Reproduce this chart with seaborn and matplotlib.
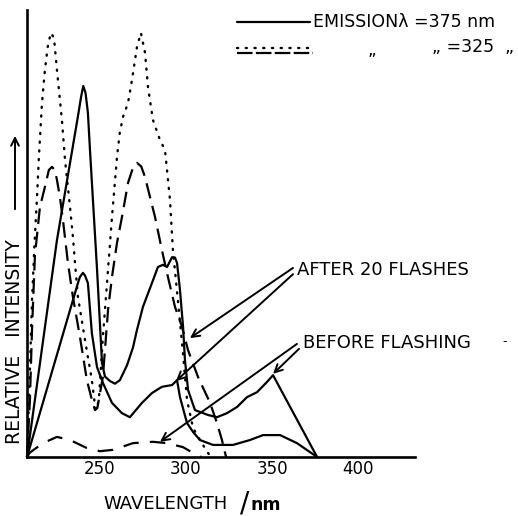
import matplotlib
matplotlib.use("Agg")
import matplotlib.pyplot as plt
import seaborn as sns
import pandas as pd
from matplotlib.lines import Line2D

# ---------------- data (wavelength nm, relative intensity 0-100) ----------------
solid_tall_nm = [207.6, 216, 225, 232, 237.2, 239, 240.3, 241.6, 243, 244.2, 248.3, 251.2,
                 252.9, 255.8, 258.7, 261.6, 265.7, 269.2, 271.5, 275.0, 280.2, 283.7,
                 286.6, 289.0, 291.9, 293.6, 294.8, 296.5, 298.3, 299.4, 301.2, 305.2,
                 312.8, 318.0, 323.8, 329.7, 335.5, 341.3, 347.1, 350.6, 376.2]
solid_tall_int = [0, 23.4, 48.5, 64.4, 76.2, 80.5, 83.0, 81.5, 77.0, 68.7, 42.0, 21.0,
                  18.0, 17.0, 16.4, 17.2, 20.5, 24.5, 28.4, 33.6, 38.9, 42.5,
                  43.0, 42.5, 44.7, 44.6, 43.4, 37.4, 29.1, 21.7, 15.0, 10.5,
                  9.4, 8.9, 9.8, 11.2, 13.4, 14.5, 16.8, 18.3, 0]

solid_mid_nm = [207.6, 234.3, 237.5, 238.4, 240.1, 241.3, 243.0, 245.3, 248.3, 251.7, 257.0,
                262.8, 267.4, 274.4, 280.2, 286.0, 291.9, 294.8, 296.5, 300.6, 304.1,
                308.1, 315.7, 327.3, 337.2, 344.8, 354.7, 364.5, 376.2]
solid_mid_int = [0, 35.1, 39.3, 40.3, 41.2, 40.6, 38.9, 27.7, 20.1, 16.6, 12.1,
                 9.8, 8.9, 12.1, 14.3, 15.7, 16.1, 17.2, 13.4, 7.6, 5.6,
                 3.8, 2.7, 2.7, 3.8, 4.9, 4.9, 3.1, 0]

dotted_nm = [207.6, 208.5, 209.5, 210.5, 212.0, 213.4, 214.5, 216.3, 218.0, 219.8, 221.5,
             223.3, 225.0, 227.9, 229.7, 232.6, 234.3, 235.5, 237.2, 241.3, 245.3, 247.1,
             248.0, 249.4, 251.7, 254.1, 257.0, 259.9, 261.5, 263.4, 266.3, 268.6, 271.5,
             273.8, 276.2, 277.9, 280.8, 284.9, 287.8, 290.7, 292.4, 295.3, 298.3, 300.6,
             304.1, 308.1, 312.8, 314.5]
dotted_int = [0, 10, 22, 35, 48, 58, 67, 79.2, 86.6, 92.2, 94.9,
              93.7, 86.6, 75.4, 66.4, 55.9, 49.2, 43.4, 35.8, 26.2, 17.2, 11.5,
              10.5, 13.0, 26.8, 38.9, 53.7, 67.1, 72.5, 76.1, 79.2, 84.3, 91.7,
              94.9, 90.4, 82.8, 75.4, 70.9, 68.7, 57.5, 46.3, 35.1, 23.0, 12.8,
              6.5, 3.8, 0.9, 0]

dashed_tall_nm = [207.6, 209.3, 210.5, 212.2, 215.1, 218.0, 220.3, 222.1, 223.8, 225.0, 226.7,
                  228.5, 231.4, 234.3, 238.4, 242.4, 245.3, 247.1, 248.5, 251.7, 252.9,
                  254.7, 257.0, 259.9, 262.8, 266.3, 269.0, 271.5, 274.0, 276.2, 282.0,
                  286.0, 289.5, 293.6, 297.7, 301.2, 307.0, 314.0, 318.0, 320.9, 323.3]
dashed_tall_int = [0, 12.8, 28.4, 45.0, 55.9, 60.4, 64.2, 64.9, 64.2, 62.0, 58.2,
                   53.0, 43.4, 35.8, 26.8, 17.2, 12.8, 10.5, 11.0, 17.9, 23.9,
                   32.9, 40.3, 47.9, 53.7, 61.3, 64.5, 65.8, 65.0, 62.6, 53.7,
                   46.3, 40.3, 33.6, 29.1, 23.9, 17.9, 12.1, 7.6, 3.8, 0]

dashed_low_nm = [207.6, 209.3, 216.9, 225.0, 232.6, 242.4, 250.0, 257.6, 269.2, 280.8,
                 289.0, 298.3, 304.1, 309.0]
dashed_low_int = [0, 1.0, 3.1, 4.5, 3.8, 2.0, 1.3, 1.6, 3.1, 3.4, 3.1, 2.2, 0.9, 0]

x_ticks = [250, 300, 350, 400]
x_tick_labels = ["250", "300", "350", "400"]

# ---------------- style ----------------
sns.set_style("white")
plt.rcParams['font.family'] = ['DejaVu Sans']
plt.rcParams['text.color'] = 'black'
plt.rcParams['xtick.color'] = 'black'
plt.rcParams['axes.labelcolor'] = 'black'

W, H = 518, 516
fig = plt.figure(figsize=(W / 100, H / 100), dpi=100)
ax = fig.add_axes([27 / W, 59 / H, 388 / W, 447 / H])

DOT = (0, (0.5, 3.2))

def draw(nm, val, **kw):
    df = pd.DataFrame({"nm": nm, "val": val})
    sns.lineplot(data=df, x="nm", y="val", ax=ax, color="black", estimator=None,
                 sort=False, clip_on=False, **kw)

draw(solid_tall_nm, solid_tall_int, lw=1.6)
draw(solid_mid_nm, solid_mid_int, lw=1.6)
draw(dotted_nm, dotted_int, lw=1.7, linestyle=DOT, dash_capstyle="round")
draw(dashed_tall_nm, dashed_tall_int, lw=1.6, linestyle=(0, (7, 3.5)))
draw(dashed_low_nm, dashed_low_int, lw=1.6, linestyle=(0, (7, 5)))

ax.set_xlim(207.6, 433.1)
ax.set_ylim(0, 100)
ax.set_xticks(x_ticks)
ax.set_xticklabels(x_tick_labels)
ax.set_yticks([])
ax.set_xlabel("")
ax.set_ylabel("")
ax.tick_params(axis="x", direction="in", length=11, width=1.5, pad=2,
               labelsize=12, color="black", labelcolor="black")
for s in ["top", "right"]:
    ax.spines[s].set_visible(False)
for s in ["left", "bottom"]:
    ax.spines[s].set_linewidth(1.9)
    ax.spines[s].set_color("black")

# ---------------- annotations ----------------
ap = dict(arrowstyle="->", lw=1.4, color="black", shrinkA=0, shrinkB=0,
          mutation_scale=14)
ax.text(364.5, 41.8, "AFTER 20 FLASHES", fontsize=13, ha="left", va="center",
        color="black")
ax.annotate("", xy=(302.3, 26.6), xytext=(362.2, 42.3), arrowprops=ap)
ax.annotate("", xy=(294.2, 17.0), xytext=(362.2, 40.9), arrowprops=ap)
ax.text(368.0, 25.5, "BEFORE FLASHING", fontsize=13, ha="left", va="center",
        color="black")
ax.text(484.0, 25.8, "-", fontsize=9, ha="left", va="center", color="black")
ax.annotate("", xy=(284.9, 3.4), xytext=(364.5, 25.3), arrowprops=ap)
ax.annotate("", xy=(350.6, 18.6), xytext=(365.7, 24.2), arrowprops=ap)

# ---------------- legend (manual, top right) ----------------
def fx(px):
    return px / W

def fy(py):
    return (H - py) / H

fig.add_artist(Line2D([fx(237), fx(310)], [fy(22), fy(22)], color="black", lw=1.6))
fig.add_artist(Line2D([fx(237), fx(313)], [fy(48), fy(48)], color="black", lw=1.7,
                      linestyle=DOT, dash_capstyle="round"))
fig.add_artist(Line2D([fx(237), fx(313)], [fy(53), fy(53)], color="black", lw=1.6,
                      linestyle=(0, (7, 1.5))))
fig.text(fx(313), fy(22), "EMISSION\u03bb =375 nm", fontsize=12.5, ha="left", va="center",
         color="black")
fig.text(fx(372), fy(50), "\u201e", fontsize=12, ha="center", va="center", color="black")
fig.text(fx(432), fy(47), "\u201e =325  \u201e", fontsize=12.5, ha="left", va="center",
         color="black")

# ---------------- axis titles ----------------
fig.text(fx(15), fy(342), "RELATIVE   INTENSITY", rotation=90, fontsize=13.5,
         ha="center", va="center", color="black")
fig.add_artist(matplotlib.patches.FancyArrowPatch(
    (fx(15), fy(212)), (fx(15), fy(133)), transform=fig.transFigure,
    arrowstyle="->", lw=1.4, color="black", mutation_scale=14))

fig.text(fx(166), fy(504), "WAVELENGTH", fontsize=13, ha="center", va="center",
         color="black")
fig.text(fx(245), fy(503), "/", fontsize=20, ha="center", va="center", color="black")
fig.text(fx(266), fy(505), "nm", fontsize=12.5, ha="center", va="center",
         fontweight="bold", color="black")

fig.savefig("out.png", dpi=100)
